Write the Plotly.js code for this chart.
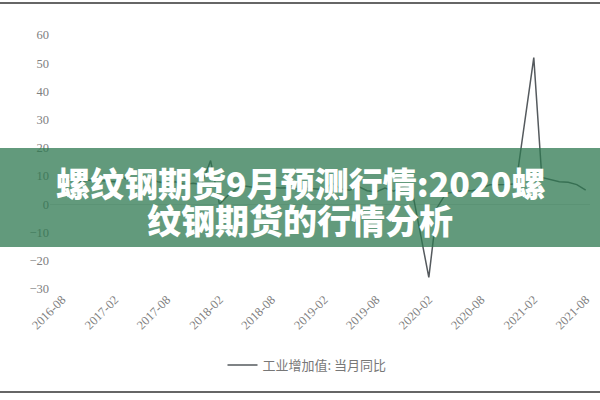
<!DOCTYPE html>
<html>
<head>
<meta charset="utf-8">
<script src="https://cdn.plot.ly/plotly-3.0.1.min.js"></script>
<style>
html,body{margin:0;padding:0;background:#fff;}
#chart{width:600px;height:400px;}
</style>
</head>
<body>
<div id="chart"></div>
<script>
var months = [
  '2016-08','2016-09','2016-10','2016-11','2016-12',
  '2017-02','2017-03','2017-04','2017-05','2017-06','2017-07','2017-08','2017-09','2017-10','2017-11','2017-12',
  '2018-01','2018-02','2018-03','2018-04','2018-05','2018-06','2018-07','2018-08','2018-09','2018-10','2018-11','2018-12',
  '2019-02','2019-03','2019-04','2019-05','2019-06','2019-07','2019-08','2019-09','2019-10','2019-11','2019-12',
  '2020-02','2020-03','2020-04','2020-05','2020-06','2020-07','2020-08','2020-09','2020-10','2020-11','2020-12',
  '2021-02','2021-03','2021-04','2021-05','2021-06','2021-07','2021-08'
];
var yoyValues = [
  8.5, 9, 8, 8.5, 8.5,
  8, 9.5, 8, 8.5, 9, 8, 7.5, 8, 7, 7.5, 7,
  15.5, 0, 3, 5.5, 6.5, 6, 5.5, 6, 5.8, 5.9, 5.4, 5.7,
  5.3, 7.5, 5.4, 5, 6.3, 4.8, 4.4, 5.8, 4.7, 6.2, 6.9,
  -25.9, -1.1, 3.9, 4.4, 4.8, 4.8, 5.6, 6.9, 6.9, 7, 7.3,
  52, 9.5, 8.8, 8, 7.8, 7, 5
];
var seriesName = '工业增加值: 当月同比';
var yTicks = [-30, -20, -10, 0, 10, 20, 30, 40, 50, 60];
var titleLine1 = '螺纹钢期货9月预测行情:2020螺';
var titleLine2 = '纹钢期货的行情分析';

var trace = {
  x: months.map(function(m){ return m + '-01'; }),
  y: yoyValues,
  type: 'scatter',
  mode: 'lines',
  name: seriesName,
  line: {color: '#555a5e', width: 1.5}
};

var L = 50, R = 10, T = 35, B = 111;
var W = 600 - L - R, H = 400 - T - B;
function px(x){ return (x - L) / W; }
function py(y){ return (400 - B - y) / H; }

var layout = {
  width: 600, height: 400,
  margin: {l: L, r: R, t: T, b: B, pad: 0},
  paper_bgcolor: '#ffffff',
  plot_bgcolor: '#ffffff',
  showlegend: true,
  legend: {
    orientation: 'h', x: px(307), xanchor: 'center', y: py(365), yanchor: 'middle',
    font: {family: 'Noto Sans CJK SC', size: 13, color: '#777'},
    bgcolor: 'rgba(0,0,0,0)'
  },
  xaxis: {
    type: 'date',
    range: ['2016-06-20', '2021-08-16'],
    tickvals: ['2016-08-01','2017-02-01','2017-08-01','2018-02-01','2018-08-01','2019-02-01','2019-08-01','2020-02-01','2020-08-01','2021-02-01','2021-08-01'],
    tickformat: '%Y-%m',
    tickangle: -45,
    showgrid: false, zeroline: false, showline: false, ticks: '',
    tickfont: {family: 'Liberation Serif', size: 12.5, color: '#808080'}
  },
  yaxis: {
    range: [-30, 60],
    tickvals: yTicks,
    showgrid: false,
    zeroline: true, zerolinecolor: '#e2e2e2', zerolinewidth: 1,
    showline: false, ticks: '',
    tickfont: {family: 'Liberation Serif', size: 12.5, color: '#808080'}
  },
  shapes: [
    {type: 'rect', xref: 'paper', yref: 'paper', x0: px(0), x1: px(600), y0: py(247), y1: py(148),
     fillcolor: 'rgba(45,120,80,0.75)', line: {width: 0}, layer: 'above'},
    {type: 'line', xref: 'paper', yref: 'paper', x0: px(0), x1: px(600), y0: py(3), y1: py(3),
     line: {color: '#666', width: 2}},
    {type: 'line', xref: 'paper', yref: 'paper', x0: px(0), x1: px(600), y0: py(392), y1: py(392),
     line: {color: '#666', width: 2}}
  ],
  annotations: [
    {xref: 'paper', yref: 'paper', x: px(300), y: py(182), xanchor: 'center', yanchor: 'middle',
     text: titleLine1, showarrow: false,
     font: {family: 'Noto Sans CJK SC', size: 34, weight: 900, color: '#ffffff'}},
    {xref: 'paper', yref: 'paper', x: px(300), y: py(219), xanchor: 'center', yanchor: 'middle',
     text: titleLine2, showarrow: false,
     font: {family: 'Noto Sans CJK SC', size: 34, weight: 900, color: '#ffffff'}}
  ]
};

Plotly.newPlot('chart', [trace], layout, {displayModeBar: false, staticPlot: true});
</script>
</body>
</html>
